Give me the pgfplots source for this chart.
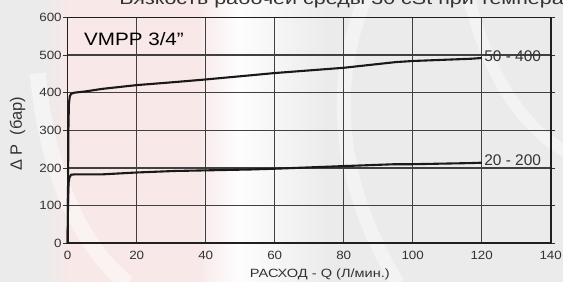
\documentclass[border=0pt]{standalone}
\usepackage{pgfplots}
\pgfplotsset{compat=1.18}
\usepackage{fontspec}
\setmainfont{Liberation Sans}
\definecolor{bggray}{HTML}{EBEBEB}
\definecolor{bgpink}{HTML}{F8E8E8}
\definecolor{txt}{HTML}{333333}
\begin{document}
\begin{tikzpicture}
% background (picture spans -67.7bp..495.3bp by -38.7bp..243.3bp)
\fill[bggray] (-67.7bp,-38.7bp) rectangle (495.3bp,243.3bp);
\shade[left color=bggray, right color=bgpink] (-25bp,-38.7bp) rectangle (0bp,243.3bp);
\fill[bgpink] (0bp,-38.7bp) rectangle (130bp,243.3bp);
\shade[left color=bgpink, right color=white!92!bggray] (130bp,-38.7bp) rectangle (170bp,243.3bp);
\shade[left color=white!92!bggray, right color=bggray] (170bp,-38.7bp) rectangle (260bp,243.3bp);
\draw[white, opacity=0.45, line width=16bp] (-30bp,170bp) .. controls (-20bp,60bp) and (20bp,-10bp) .. (60bp,-40bp);
\draw[white, opacity=0.4, line width=14bp] (300bp,250bp) .. controls (260bp,160bp) and (270bp,60bp) .. (330bp,-40bp);
\draw[white, opacity=0.4, line width=12bp] (400bp,250bp) .. controls (420bp,170bp) and (450bp,120bp) .. (500bp,90bp);
\begin{axis}[
  scale only axis, width=483bp, height=226bp,
  xmin=0, xmax=140, ymin=0, ymax=600,
  xtick={0,20,...,140}, ytick={0,100,...,600},
  grid=major, major grid style={line width=1.2bp, color=black!75},
  axis line style={line width=1.6bp, black!88},
  tick align=outside, major tick length=4.7bp,
  x tick style={draw=none},
  y tick style={line width=0.8bp, black!80},
  /pgf/number format/assume math mode=true,
  ticklabel style={font=\fontsize{12}{14}\selectfont, text=txt, xscale=1.12},
  yticklabel style={anchor=east, inner sep=0pt, xshift=-1bp},
  xticklabel style={anchor=north, inner sep=0pt, yshift=-3bp},
  xlabel={РАСХОД - Q (Л/мин.)},
  ylabel={Δ P\ \ (бар)},
  xlabel style={at={(axis description cs:0.522,-0.136)}, anchor=center, font=\fontsize{12}{14}\selectfont, text=txt, xscale=1.22},
  ylabel style={at={(axis description cs:-0.104,0.484)}, anchor=center, rotate=0, font=\fontsize{16.5}{18}\selectfont, text=txt},
  clip=false,
]
\addplot[line width=2.1bp, black!90] coordinates {
(0,0) (0.1,150) (0.2,300) (0.35,370) (0.6,390) (1,397) (2,400) (5,403) (10,410)
(20,420) (31,428) (40,435) (53,446) (60,452) (80,466) (95,481) (100,484) (117,490) (120,492)};
\addplot[line width=2.1bp, black!90] coordinates {
(0,0) (0.1,120) (0.25,160) (0.5,175) (1,182) (2,183) (10,183) (20,188) (31,192)
(53,196) (60,198) (80,205) (95,210) (100,210) (117,213) (120,214)};
\node[anchor=west, font=\fontsize{15.5}{17}\selectfont, text=txt, inner sep=0pt] at (axis cs:120.7,497) {50 - 400};
\node[anchor=west, font=\fontsize{15.5}{17}\selectfont, text=txt, inner sep=0pt] at (axis cs:120.7,220) {20 - 200};
\node[anchor=west, font=\fontsize{18}{20}\selectfont, text=black, inner sep=0pt, xscale=1.15] at (axis cs:4.7,542) {VMPP 3/4\symbol{34}};
\end{axis}
\node[anchor=base west, inner sep=0pt, font=\fontsize{17}{20}\selectfont, text=txt, xscale=1.27] at (51.3bp,239bp) {Вязкость рабочей среды 30 сSt при температуре 40 °С};
\pgfresetboundingbox
\useasboundingbox (-67.7bp,-38.7bp) rectangle (495.3bp,243.3bp);
\end{tikzpicture}
\end{document}
